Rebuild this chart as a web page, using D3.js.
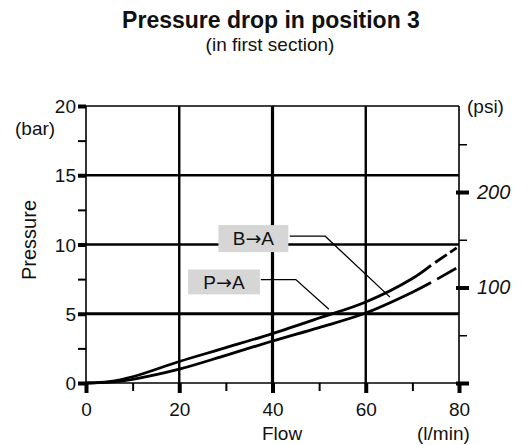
<!DOCTYPE html>
<html><head><meta charset="utf-8">
<script src="https://cdn.jsdelivr.net/npm/d3@7"></script>
<style>body{margin:0;background:#fff}svg{display:block}text{font-family:"Liberation Sans",Arial,sans-serif;fill:#111}</style>
</head><body><div id="c"></div>
<script>
// Data
const flowBA = [0, 5, 10, 20, 30, 40, 50, 60, 70, 74];
const presBA = [0, 0.1, 0.45, 1.55, 2.55, 3.57, 4.69, 5.85, 7.55, 8.5];
const flowBAdash = [74, 79.5];
const presBAdash = [8.5, 9.75];
const flowPA = [0, 5, 10, 20, 30, 40, 50, 60, 70, 74];
const presPA = [0, 0.06, 0.27, 1.0, 2.0, 3.03, 4.0, 5.05, 6.55, 7.25];
const flowPAdash = [74, 79.5];
const presPAdash = [7.25, 8.3];
const xTicks = [0, 20, 40, 60, 80];
const xMinor = [10, 30, 50, 70];
const yTicks = [0, 5, 10, 15, 20];
const yMinor = [2.5, 7.5, 12.5, 17.5];
const psiTicks = [100, 200];
const psiMinor = [50, 150, 250];
const labelFrom = ["B", "P"];
const labelTo = ["A", "A"];
// annotation anchors in data units
const boxFlow = [[28.4, 43.4], [21.9, 37.3]];
const boxBar = [[11.4, 9.45], [8.2, 6.4]];
const leaderFlow = [[43.7, 51.3, 65.2], [37.5, 45.0, 52.1]];
const leaderBar = [[10.6, 10.6, 6.2], [7.47, 7.47, 5.33]];

const W = 528, H = 445;
const svg = d3.select("#c").append("svg").attr("width", W).attr("height", H);
const x = d3.scaleLinear().domain([0, 80]).range([86, 459]);
const y = d3.scaleLinear().domain([0, 20]).range([383, 106]);
const BAR_PER_PSI = 0.0689476;
const FF = "'Liberation Sans',Arial,sans-serif";

// title
svg.append("text").attr("x", 271).attr("y", 28).attr("text-anchor", "middle")
  .style("font-size", "23px").style("font-weight", "bold").text("Pressure drop in position 3");
svg.append("text").attr("x", 270).attr("y", 51).attr("text-anchor", "middle")
  .style("font-size", "19px").text("(in first section)");

// grid
const g = svg.append("g");
[5, 10, 15].forEach(v => g.append("line").attr("x1", x(0)).attr("x2", x(80)).attr("y1", y(v)).attr("y2", y(v))
  .attr("stroke", "#000").attr("stroke-width", v === 5 ? 3.2 : 2.4));
g.append("line").attr("x1", x(0)).attr("x2", x(80)).attr("y1", y(20)).attr("y2", y(20)).attr("stroke", "#000").attr("stroke-width", 1.6);
[20, 40, 60].forEach(v => g.append("line").attr("x1", x(v)).attr("x2", x(v)).attr("y1", y(0)).attr("y2", y(20))
  .attr("stroke", "#000").attr("stroke-width", v === 40 ? 3.2 : 2.4));
g.append("line").attr("x1", x(0)).attr("x2", x(0)).attr("y1", y(0)).attr("y2", y(20)).attr("stroke", "#000").attr("stroke-width", 1.6);
g.append("line").attr("x1", x(80)).attr("x2", x(80)).attr("y1", y(0)).attr("y2", y(20)).attr("stroke", "#000").attr("stroke-width", 1.6);
g.append("line").attr("x1", x(0)).attr("x2", x(80)).attr("y1", y(0)).attr("y2", y(0)).attr("stroke", "#000").attr("stroke-width", 1.6);

// left axis ticks
const la = svg.append("g").attr("transform", `translate(${x(0)},0)`)
  .call(d3.axisLeft(y).tickValues(yTicks).tickSize(8).tickPadding(2).tickFormat(d3.format("d")));
la.select(".domain").remove();
la.selectAll(".tick line").attr("stroke", "#000").attr("stroke-width", 4);
la.selectAll(".tick text").style("font-size", "19px").attr("dy", "0.35em").style("font-family", FF).attr("fill", "#111");
const laMin = svg.append("g").attr("transform", `translate(${x(0)},0)`).call(d3.axisLeft(y).tickValues(yMinor).tickSize(8).tickFormat(""));
laMin.select(".domain").remove();
laMin.selectAll(".tick line").attr("stroke", "#000").attr("stroke-width", 2);

// bottom axis
const bx = svg.append("g").attr("transform", `translate(0,${y(0)})`)
  .call(d3.axisBottom(x).tickValues(xTicks).tickSize(10).tickPadding(10).tickFormat(d3.format("d")));
bx.select(".domain").remove();
bx.selectAll(".tick line").attr("stroke", "#000").attr("stroke-width", 4);
bx.selectAll(".tick text").style("font-size", "19px").attr("fill", "#111").style("font-family", FF);
const bxMin = svg.append("g").attr("transform", `translate(0,${y(0)})`)
  .call(d3.axisBottom(x).tickValues(xMinor).tickSize(8).tickFormat(""));
bxMin.select(".domain").remove();
bxMin.selectAll(".tick line").attr("stroke", "#000").attr("stroke-width", 2);

// right psi axis
const yPsi = d3.scaleLinear().domain([0, 20 / BAR_PER_PSI]).range([383, 106]);
const ra = svg.append("g").attr("transform", `translate(${x(80)},0)`)
  .call(d3.axisRight(yPsi).tickValues(psiTicks).tickSize(10).tickPadding(8).tickFormat(d3.format("d")));
ra.select(".domain").remove();
ra.selectAll(".tick line").attr("stroke", "#000").attr("stroke-width", 4).attr("x1", -3);
ra.selectAll(".tick text").style("font-size", "20px").style("font-style", "italic").attr("fill", "#111").style("font-family", FF);
const raMin = svg.append("g").attr("transform", `translate(${x(80)},0)`)
  .call(d3.axisRight(yPsi).tickValues(psiMinor).tickSize(8).tickFormat(""));
raMin.select(".domain").remove();
raMin.selectAll(".tick line").attr("stroke", "#000").attr("stroke-width", 1.5);
const ra0 = svg.append("g").attr("transform", `translate(${x(80)},0)`)
  .call(d3.axisRight(yPsi).tickValues([0]).tickSize(10).tickFormat(""));
ra0.select(".domain").remove();
ra0.selectAll(".tick line").attr("stroke", "#000").attr("stroke-width", 4).attr("x1", -3);

// axis titles
svg.append("text").attr("x", 15).attr("y", 135).style("font-size", "19px").text("(bar)");
svg.append("text").attr("transform", "translate(36,240) rotate(-90)").attr("text-anchor", "middle").style("font-size", "20px").text("Pressure");
svg.append("text").attr("x", 262).attr("y", 440).style("font-size", "19px").text("Flow");
svg.append("text").attr("x", 417).attr("y", 440).style("font-size", "19px").text("(l/min)");
svg.append("text").attr("x", 467).attr("y", 113).style("font-size", "19px").text("(psi)");

// curves
const line = d3.line().x(d => x(d[0])).y(d => y(d[1])).curve(d3.curveCatmullRom.alpha(0.5));
const straight = d3.line().x(d => x(d[0])).y(d => y(d[1]));
const series = [
  [flowBA, presBA, flowBAdash, presBAdash, "0,5,14,4,8,100"],
  [flowPA, presPA, flowPAdash, presPAdash, "0,7,22,100"]
];
series.forEach(s => {
  svg.append("path").datum(s[0].map((f, i) => [f, s[1][i]])).attr("d", line)
    .attr("fill", "none").attr("stroke", "#000").attr("stroke-width", 2.8);
  svg.append("path").datum(s[2].map((f, i) => [f, s[3][i]])).attr("d", straight)
    .attr("fill", "none").attr("stroke", "#000").attr("stroke-width", 2.8).attr("stroke-dasharray", s[4]);
});

// annotations
labelFrom.forEach((lab, i) => {
  const x0 = x(boxFlow[i][0]), x1 = x(boxFlow[i][1]), y0 = y(boxBar[i][0]), y1 = y(boxBar[i][1]);
  svg.append("rect").attr("x", x0).attr("y", y0).attr("width", x1 - x0).attr("height", y1 - y0).attr("fill", "#d6d6d6");
  const t = svg.append("text").attr("x", (x0 + x1) / 2).attr("y", (y0 + y1) / 2).attr("dy", "0.36em").attr("text-anchor", "middle")
    .style("font-size", "19px");
  t.append("tspan").text(lab);
  t.append("tspan").style("font-family", "'DejaVu Sans',sans-serif").style("font-size", "19px").text("\u2192");
  t.append("tspan").text(labelTo[i]);
  svg.append("path").datum(leaderFlow[i].map((f, j) => [f, leaderBar[i][j]])).attr("d", straight)
    .attr("fill", "none").attr("stroke", "#000").attr("stroke-width", 1.3);
});
</script></body></html>
